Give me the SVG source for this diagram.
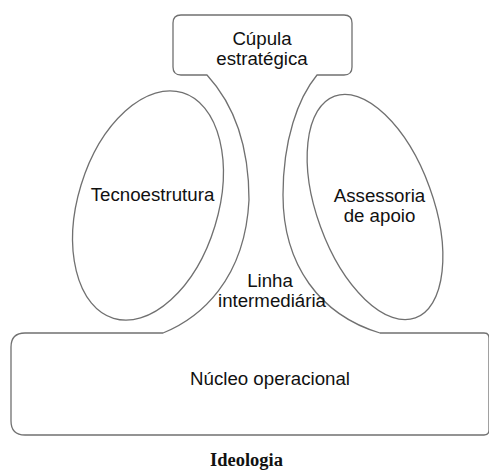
<svg xmlns="http://www.w3.org/2000/svg" width="489" height="471" viewBox="0 0 489 471">
  <style>
    .outline { fill: none; stroke: #707070; stroke-width: 1.3; stroke-linejoin: round; }
    .lbl { font-family: "Liberation Sans", Arial, sans-serif; font-size: 18.7px; fill: #111; text-anchor: middle; }
    .cap { font-family: "Liberation Serif", "Times New Roman", serif; font-size: 18.5px; font-weight: bold; fill: #111; text-anchor: middle; }
  </style>
  <rect width="489" height="471" fill="#fff"/>

  <!-- Shared outline: strategic apex, middle line necks and operating core -->
  <g id="structure">
    <path class="outline" d="M 11,347 Q 11,333 25,333 L 163,333
      C 200,318 245,280 249,200 C 249,140 230,100 207,75
      L 181,75 Q 173,75 173,67 L 173,23 Q 173,15 181,15 L 344,15 Q 352,15 352,23 L 352,67 Q 352,75 344,75 L 317,75
      C 298,98 283,140 283,195 C 283,265 320,315 380,333
      L 484,333 Q 489,333 489,338 L 489,430 Q 489,435 484,435 L 25,435 Q 11,435 11,421 Z"/>
  </g>

  <g id="cupula">
    <text class="lbl" x="262" y="45">Cúpula</text>
    <text class="lbl" x="262" y="64.5">estratégica</text>
  </g>

  <g id="tecnoestrutura">
    <ellipse class="outline" cx="148" cy="205.5" rx="70" ry="118" transform="rotate(17 148 205.5)"/>
    <text class="lbl" x="152.5" y="200.5">Tecnoestrutura</text>
  </g>

  <g id="assessoria">
    <ellipse class="outline" cx="375" cy="207" rx="58" ry="118" transform="rotate(-20 375 207)"/>
    <text class="lbl" x="379.5" y="201.5">Assessoria</text>
    <text class="lbl" x="379.5" y="221.5">de apoio</text>
  </g>

  <g id="linha">
    <text class="lbl" x="270" y="287">Linha</text>
    <text class="lbl" x="272" y="307">intermediária</text>
  </g>

  <g id="nucleo">
    <text class="lbl" x="270" y="385">Núcleo operacional</text>
  </g>

  <g id="ideologia">
    <text class="cap" x="246.5" y="466">Ideologia</text>
  </g>
</svg>
